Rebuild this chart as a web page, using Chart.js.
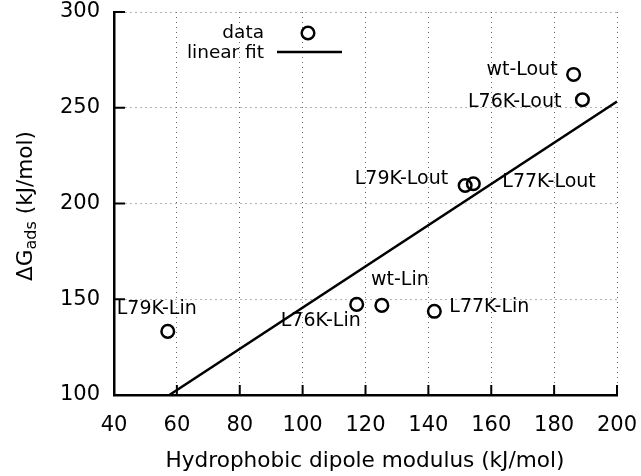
<!DOCTYPE html>
<html>
<head>
<meta charset="utf-8">
<script src="https://cdn.jsdelivr.net/npm/chart.js@4"></script>
<style>
  html, body { margin: 0; padding: 0; background: #fff; }
  #wrap { width: 641px; height: 476px; }
</style>
</head>
<body>
<div id="wrap"><canvas id="c"></canvas></div>
<script>
// values
const pointNames = ['L79K-Lin', 'L76K-Lin', 'wt-Lin', 'L77K-Lin', 'L79K-Lout', 'L77K-Lout', 'wt-Lout', 'L76K-Lout'];
const dipoleValues = [57.1, 117.2, 125.2, 141.9, 151.7, 154.3, 186.2, 189.0];
const adsorptionValues = [133.2, 147.3, 146.8, 143.7, 209.4, 210.3, 267.4, 254.2];
const fitX = [57.6, 200];
const fitY = [100, 253.3];
const xTicks = [40, 60, 80, 100, 120, 140, 160, 180, 200];
const yTicks = [100, 150, 200, 250, 300];

// where each label sits relative to its point (pixels)
const labelPlacement = [
  {dx: -11, dy: -22, align: 'center'},
  {dx: 4, dy: 17, align: 'right'},
  {dx: 18, dy: -25, align: 'center'},
  {dx: 15, dy: -4, align: 'left'},
  {dx: -17, dy: -6, align: 'right'},
  {dx: 29, dy: -2, align: 'left'},
  {dx: -16, dy: -4, align: 'right'},
  {dx: -21, dy: 2, align: 'right'}
];

const FONT = 'DejaVu Sans';
Chart.defaults.font.family = FONT;
Chart.defaults.font.size = 21;
Chart.defaults.color = '#000';

const scatterPoints = dipoleValues.map((x, i) => ({x: x, y: adsorptionValues[i]}));
const fitPoints = fitX.map((x, i) => ({x: x, y: fitY[i]}));

// inward tick marks, point labels, legend and axis titles
const decorations = {
  id: 'decorations',
  afterDraw(chart) {
    const ctx = chart.ctx;
    const xs = chart.scales.x, ys = chart.scales.y;
    const area = chart.chartArea;
    ctx.save();
    ctx.strokeStyle = '#000';
    ctx.lineWidth = 2;
    xTicks.forEach(v => {
      const px = xs.getPixelForValue(v);
      ctx.beginPath();
      ctx.moveTo(px, area.bottom);
      ctx.lineTo(px, area.bottom - 10);
      ctx.stroke();
    });
    yTicks.forEach(v => {
      const py = ys.getPixelForValue(v);
      ctx.beginPath();
      ctx.moveTo(area.left, py);
      ctx.lineTo(area.left + 11, py);
      ctx.stroke();
    });

    ctx.fillStyle = '#000';
    ctx.font = '19px "' + FONT + '"';
    ctx.textBaseline = 'middle';
    pointNames.forEach((name, i) => {
      const p = labelPlacement[i];
      const px = xs.getPixelForValue(dipoleValues[i]);
      const py = ys.getPixelForValue(adsorptionValues[i]);
      ctx.textAlign = p.align;
      ctx.fillText(name, px + p.dx, py + p.dy);
    });

    // legend
    ctx.font = '18.5px "' + FONT + '"';
    ctx.textAlign = 'right';
    ctx.fillText('data', 264, 33);
    ctx.fillText('linear fit', 264, 53);
    ctx.lineWidth = 2.5;
    ctx.beginPath();
    ctx.arc(308, 33, 6.3, 0, Math.PI * 2);
    ctx.stroke();
    ctx.beginPath();
    ctx.moveTo(277, 52);
    ctx.lineTo(342, 52);
    ctx.stroke();

    // x title
    ctx.textAlign = 'center';
    ctx.font = '21.6px "' + FONT + '"';
    ctx.fillText('Hydrophobic dipole modulus (kJ/mol)', 365, 461);

    // y title with subscript
    ctx.save();
    ctx.translate(24, 206);
    ctx.rotate(-Math.PI / 2);
    const big = '21.6px "' + FONT + '"';
    const small = '16px "' + FONT + '"';
    ctx.font = big;
    const w1 = ctx.measureText('\u0394G').width;
    const w3 = ctx.measureText(' (kJ/mol)').width;
    ctx.font = small;
    const w2 = ctx.measureText('ads').width;
    let x0 = -(w1 + w2 + w3) / 2;
    ctx.textAlign = 'left';
    ctx.textBaseline = 'alphabetic';
    ctx.font = big;
    ctx.fillText('\u0394G', x0, 8);
    ctx.font = small;
    ctx.fillText('ads', x0 + w1, 12);
    ctx.font = big;
    ctx.fillText(' (kJ/mol)', x0 + w1 + w2, 8);
    ctx.restore();

    ctx.restore();
  }
};

new Chart(document.getElementById('c'), {
  type: 'scatter',
  data: {
    datasets: [
      {
        label: 'data',
        data: scatterPoints,
        pointStyle: 'circle',
        pointRadius: 6.3,
        pointHoverRadius: 6.3,
        borderWidth: 2.5,
        borderColor: '#000',
        backgroundColor: 'rgba(0,0,0,0)'
      },
      {
        label: 'linear fit',
        type: 'line',
        data: fitPoints,
        showLine: true,
        pointRadius: 0,
        borderColor: '#000',
        borderWidth: 2.5,
        fill: false
      }
    ]
  },
  options: {
    responsive: true,
    maintainAspectRatio: false,
    animation: false,
    events: [],
    layout: {padding: {top: 12, right: 24, left: 0, bottom: 0}},
    plugins: {
      legend: {display: false},
      tooltip: {enabled: false}
    },
    scales: {
      x: {
        type: 'linear',
        min: 40,
        max: 200,
        afterBuildTicks: s => { s.ticks = xTicks.map(v => ({value: v})); },
        afterFit: s => { s.height = 81; s.paddingLeft = 0; s.paddingRight = 0; },
        ticks: {padding: 18},
        grid: {color: '#666', lineWidth: 1, drawTicks: false},
        border: {display: true, color: '#000', width: 2.5, dash: [1, 4]}
      },
      y: {
        type: 'linear',
        min: 100,
        max: 300,
        afterBuildTicks: s => { s.ticks = yTicks.map(v => ({value: v})); },
        afterFit: s => { s.width = 114; s.paddingTop = 0; s.paddingBottom = 0; },
        ticks: {padding: 14},
        grid: {color: '#666', lineWidth: 1, drawTicks: false},
        border: {display: true, color: '#000', width: 2.5, dash: [1, 4]}
      }
    }
  },
  plugins: [decorations]
});
</script>
</body>
</html>
